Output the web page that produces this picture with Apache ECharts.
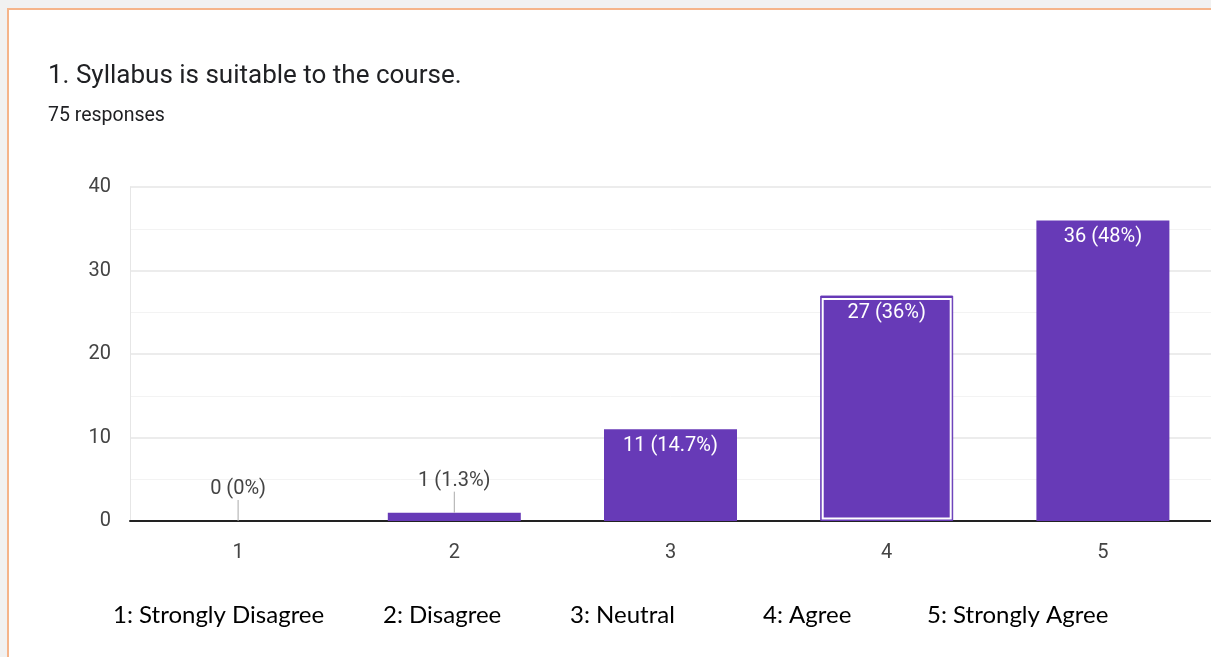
<!DOCTYPE html>
<html>
<head>
<meta charset="utf-8">
<script src="https://cdn.jsdelivr.net/npm/echarts@6/dist/echarts.min.js"></script>
<style>
  html, body { margin: 0; padding: 0; background: #fff; }
  #main { width: 1211px; height: 657px; }
</style>
</head>
<body>
<div id="main"></div>
<script>
// data
var categories = ['1', '2', '3', '4', '5'];
var counts = [0, 1, 11, 27, 36];
var percents = ['0%', '1.3%', '14.7%', '36%', '48%'];
var scaleNames = ['1: Strongly Disagree', '2: Disagree', '3: Neutral', '4: Agree', '5: Strongly Agree'];
var yTicks = [0, 10, 20, 30, 40];
var highlightIndex = 3;

var purple = '#673ab7';

function labelText(i) {
    return counts[i] + ' (' + percents[i] + ')';
}

var myChart = echarts.init(document.getElementById('main'));

// small bars get label above with a leader line
var outsideData = [];
for (var i = 0; i < counts.length; i++) {
    if (counts[i] < 3) outsideData.push([i, counts[i]]);
}

var legendX = [113, 383, 570, 763, 927];
var legendGraphics = [];
for (var k = 0; k < scaleNames.length; k++) {
    legendGraphics.push({
        type: 'text',
        left: legendX[k],
        top: 603,
        style: {
            text: scaleNames[k],
            fill: '#000',
            font: '24px Lato, "Open Sans", sans-serif'
        }
    });
}

option = {
    backgroundColor: '#fff',
    animation: false,
    title: [
        {
            text: '1. Syllabus is suitable to the course.',
            left: 48,
            top: 63,
            padding: 0,
            textStyle: { fontFamily: 'Roboto', fontSize: 26, fontWeight: 'normal', color: '#202124' }
        },
        {
            text: '75 responses',
            left: 48,
            top: 106,
            padding: 0,
            textStyle: { fontFamily: 'Roboto', fontSize: 19.5, fontWeight: 'normal', color: '#202124' }
        }
    ],
    graphic: [
        { type: 'rect', left: 0, top: 0, shape: { width: 1211, height: 8 }, style: { fill: '#f1f1f1' }, z: -1 },
        { type: 'rect', left: 0, top: 0, shape: { width: 7, height: 657 }, style: { fill: '#f1f1f1' }, z: -1 },
        { type: 'rect', left: 7, top: 8, shape: { width: 1204, height: 2 }, style: { fill: '#f5b48a' }, z: -1 },
        { type: 'rect', left: 7, top: 8, shape: { width: 2, height: 649 }, style: { fill: '#f5b48a' }, z: -1 }
    ].concat(legendGraphics),
    grid: {
        left: 130,
        right: 0,
        top: 187,
        bottom: 136
    },
    xAxis: {
        type: 'category',
        data: categories,
        axisLine: { show: true, lineStyle: { color: '#222', width: 2 } },
        axisTick: { show: false },
        axisLabel: { margin: 22, fontFamily: 'Roboto', fontSize: 20, color: '#444' },
        splitLine: { show: false }
    },
    yAxis: {
        type: 'value',
        min: yTicks[0],
        max: yTicks[yTicks.length - 1],
        interval: 10,
        axisLine: { show: true, lineStyle: { color: '#e6e6e6', width: 1 } },
        axisTick: { show: false },
        axisLabel: { margin: 19, fontFamily: 'Roboto', fontSize: 20, color: '#444' },
        splitLine: { show: true, lineStyle: { color: '#e6e6e6', width: 1.5 } },
        minorTick: { show: false, splitNumber: 2 },
        minorSplitLine: { show: true, lineStyle: { color: '#f3f3f3', width: 1 } }
    },
    series: [
        {
            name: 'responses',
            type: 'bar',
            data: counts.map(function (v, i) {
                var item = { value: v };
                if (i === highlightIndex) {
                    item.itemStyle = { borderColor: purple, borderWidth: 1 };
                }
                if (v < 3) {
                    item.label = { show: false };
                }
                return item;
            }),
            barWidth: 133,
            itemStyle: { color: purple },
            label: {
                show: true,
                position: 'insideTop',
                distance: 7,
                color: '#fff',
                fontFamily: 'Roboto',
                fontSize: 20,
                formatter: function (p) { return labelText(p.dataIndex); }
            }
        },
        {
            // white inner outline on the selected bar
            name: 'highlight',
            type: 'custom',
            data: [[highlightIndex, counts[highlightIndex]]],
            z: 5,
            silent: true,
            renderItem: function (params, api) {
                var top = api.coord([api.value(0), api.value(1)]);
                var bottom = api.coord([api.value(0), 0]);
                var w = 135;
                return {
                    type: 'rect',
                    shape: {
                        x: top[0] - w / 2 + 3.5,
                        y: top[1] + 3.5,
                        width: w - 7,
                        height: bottom[1] - top[1] - 6
                    },
                    style: { fill: 'none', stroke: '#fff', lineWidth: 2 }
                };
            }
        },
        {
            // labels above very short bars with a leader line
            name: 'outside',
            type: 'custom',
            data: outsideData,
            z: 6,
            silent: true,
            renderItem: function (params, api) {
                var i = api.value(0);
                var p = api.coord([i, api.value(1)]);
                return {
                    type: 'group',
                    children: [
                        {
                            type: 'line',
                            shape: { x1: p[0], y1: p[1], x2: p[0], y2: p[1] - 21 },
                            style: { stroke: '#aaa', lineWidth: 1 }
                        },
                        {
                            type: 'text',
                            x: p[0],
                            y: p[1] - 22,
                            style: {
                                text: labelText(i),
                                fill: '#444',
                                font: '20px Roboto',
                                align: 'center',
                                verticalAlign: 'bottom'
                            }
                        }
                    ]
                };
            }
        }
    ]
};

myChart.setOption(option);
window.addEventListener('resize', function () { myChart.resize(); })
</script>
</body>
</html>
